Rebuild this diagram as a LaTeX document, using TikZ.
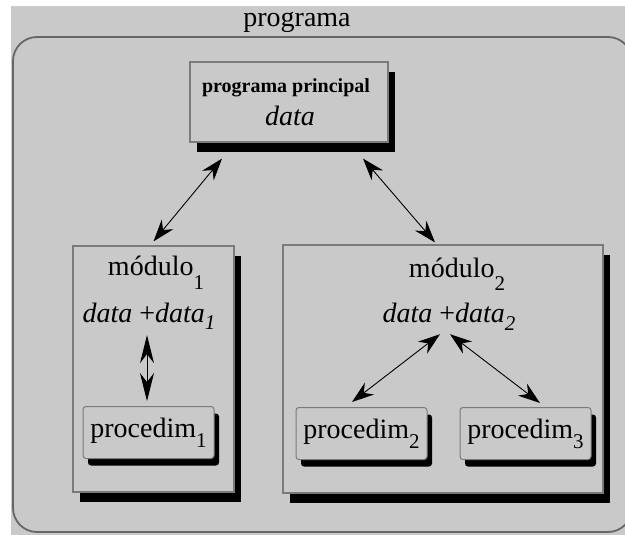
\documentclass[tikz,border=0pt]{standalone}
\usepackage{fontspec}
\setmainfont{Liberation Serif}
\usetikzlibrary{positioning, calc, arrows.meta, shadows}

\definecolor{panel}{HTML}{C9C9C9}
\definecolor{rim}{HTML}{7A7A7A}
\definecolor{outerrim}{HTML}{666666}

% lowered index, as the picture sets it
\newcommand{\idx}[2][-10pt]{\raisebox{#1}{\fontsize{21}{21}\selectfont #2}}

\tikzset{
    bigbox/.style = {draw=rim, fill=panel, line width=1.2pt, rectangle,
        drop shadow={shadow xshift=7pt, shadow yshift=-10pt, fill=black,
        opacity=1}},
    procbox/.style = {draw=rim, fill=panel, line width=1pt, rectangle,
        rounded corners=3pt, inner sep=0pt, minimum width=131pt,
        minimum height=52pt, font=\fontsize{28}{30}\selectfont,
        drop shadow={shadow xshift=5pt, shadow yshift=-7pt, fill=black,
        opacity=1}},
    label/.style = {anchor=base, inner sep=0pt,
        font=\fontsize{28}{30}\selectfont},
    link/.style = {{Stealth[length=22pt, width=15pt]}-{Stealth[length=22pt,
        width=15pt]}, line width=0.9pt},
}

\begin{document}
\begin{tikzpicture}[x=1pt, y=-1pt]
    \useasboundingbox (0,0) rectangle (625,535);
    \fill [panel] (11,6) rectangle (625,535);
    \begin{scope}
        \clip (0,0) rectangle (625,535);
        \draw [outerrim, line width=1.8pt, rounded corners=24pt] (13,37)
        rectangle (632,532);
    \end{scope}
    \node [label] (title) at (297,27) {programa};

    % main program
    \node [bigbox, minimum width=198pt, minimum height=80pt] (main) at
    (289,102) {};
    \node [label, font=\bfseries\fontsize{20}{22}\selectfont] (head) at
    (286,93) {programa principal};
    \node [label] (maindata) at (290,125) {\itshape data};

    % modules
    \node [bigbox, minimum width=161pt, minimum height=246pt] (mod1) at
    (153.5,369) {};
    \node [bigbox, minimum width=320pt, minimum height=248pt] (mod2) at
    (443,369) {};
    \node [label] (name1) at (156,275) {módulo\idx[-14pt]{1}};
    \node [label] (name2) at (457,277) {módulo\idx[-13pt]{2}};
    \node [label] (share1) at (149,322) {\itshape data \upshape+\itshape
    data\idx[-7pt]{1}};
    \node [label] (share2) at (449,322) {\itshape data \upshape+\itshape
    data\idx[-8pt]{2}};

    % procedures
    \node [procbox] (proc1) at (148.5,432.5) {procedim\idx{1}};
    \node [procbox] (proc2) at (361.5,433.5) {procedim\idx{2}};
    \node [procbox] (proc3) at (525.5,433.5) {procedim\idx{3}};

    % links
    \draw [link] ($(main.south)+(-67,16)$) -- ($(mod1.north)+(0,-4)$);
    \draw [link] ($(main.south)+(74,16)$) -- ($(mod2.north)+(-8,-2)$);
    \draw [link, {Stealth[length=28pt, width=14pt]}-{Stealth[length=28pt,
    width=14pt]}] ($(share1.south)+(-2,6)$) -- ($(proc1.north)+(-1.5,-5)$);
    \draw [link] ($(share2.south)+(-9,4)$) -- ($(proc2.north)+(-9.5,-5)$);
    \draw [link] ($(share2.south)+(1,4)$) -- ($(proc3.north)+(14.5,-4)$);
\end{tikzpicture}
\end{document}
